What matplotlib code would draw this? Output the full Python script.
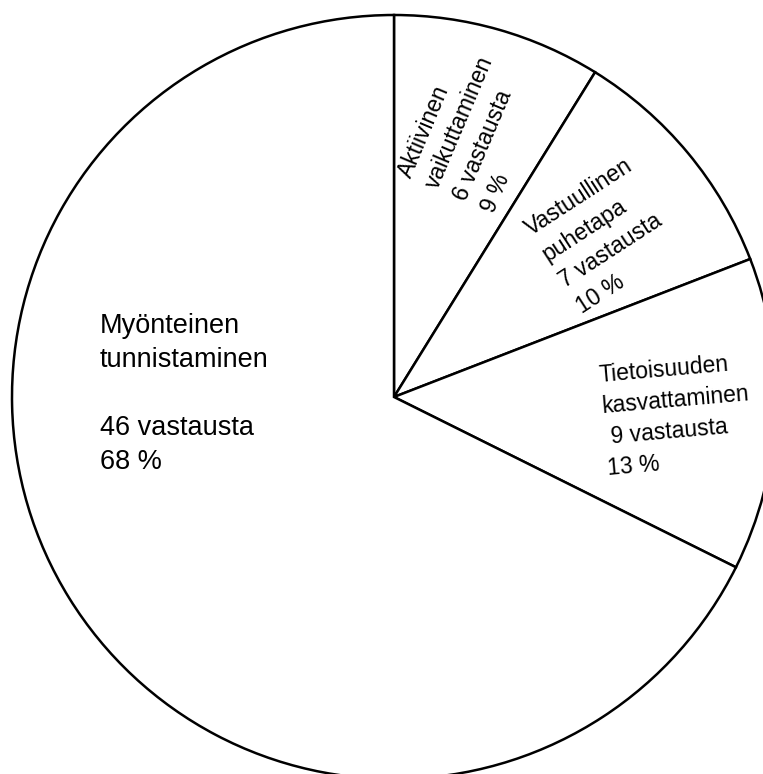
import matplotlib
matplotlib.use("Agg")
import matplotlib.pyplot as plt

# Vastausten jakauma (kellon suuntaan ylhäältä)
categories = ["Aktiivinen\nvaikuttaminen", "Vastuullinen\npuhetapa",
              "Tietoisuuden\nkasvattaminen", "Myönteinen\ntunnistaminen"]
counts = [6, 7, 9, 46]
percents = [9, 10, 13, 68]

# label placement (data coords, radius = 1), rotation, font size
label_x = [0.000, 0.334, 0.534, -0.770]
label_y = [0.590, 0.462, 0.086, 0.220]
label_rot = [67, 33, 5, 0]
label_size = [16.5, 16.5, 16.5, 19.5]
label_spacing = [1.4, 1.45, 1.45, 1.4]

W, H = 763, 774
cx, cy, r = 394, 397, 382

fig = plt.figure(figsize=(W / 100, H / 100), dpi=100)
ax = fig.add_axes([0, 0, 1, 1])
plt.rcParams['font.family'] = ['Liberation Sans', 'DejaVu Sans']

ax.pie(counts, startangle=90, counterclock=False, colors=['white'] * len(counts),
       wedgeprops=dict(edgecolor='black', linewidth=1.8))

for i, name in enumerate(categories):
    if i == 3:
        txt = f"{name}\n\n{counts[i]} vastausta\n{percents[i]} %"
    elif i == 2:
        txt = f"{name}\n {counts[i]} vastausta\n{percents[i]} %"
    else:
        txt = f"{name}\n{counts[i]} vastausta\n{percents[i]} %"
    ax.text(label_x[i], label_y[i], txt, rotation=label_rot[i], rotation_mode='anchor',
            ha='left', va='top', multialignment='left', fontsize=label_size[i],
            linespacing=label_spacing[i], family=['Liberation Sans', 'DejaVu Sans'])

ax.set_aspect('auto')
ax.set_xlim(-cx / r, (W - cx) / r)
ax.set_ylim(-(H - cy) / r, cy / r)
ax.axis('off')

fig.savefig("out.png", dpi=100, facecolor='white')
